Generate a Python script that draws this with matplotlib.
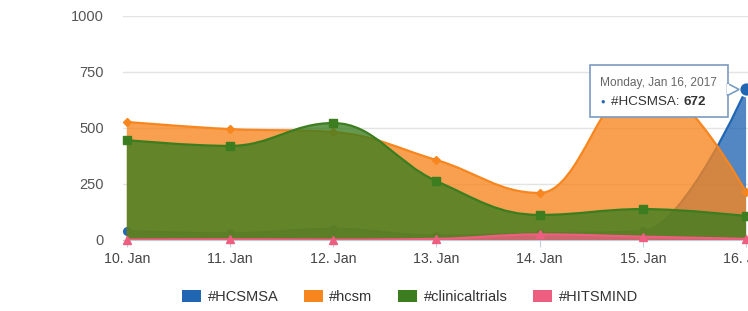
import numpy as np
import matplotlib
matplotlib.use("Agg")
import matplotlib.pyplot as plt
from matplotlib.path import Path
from matplotlib.patches import PathPatch, Rectangle, Polygon, Patch
from matplotlib.transforms import ScaledTranslation

plt.rcParams['font.family'] = ['Liberation Sans', 'DejaVu Sans']

### Data
days = ['10. Jan', '11. Jan', '12. Jan', '13. Jan', '14. Jan', '15. Jan', '16. Jan']
names = ['#HCSMSA', '#hcsm', '#clinicaltrials', '#HITSMIND']
hcsmsa = [40, 30, 50, 20, 30, 40, 672]
hcsm = [527, 495, 482, 357, 210, 715, 214]
clinicaltrials = [446, 420, 522, 263, 112, 138, 107]
hitsmind = [2, 3, 2, 5, 25, 15, 5]

colors = ['#2166b3', '#f7861e', '#3b7d1f', '#ee5e80']
markers = ['o', 'D', 's', '^']
msizes = [5.5, 4.5, 5.5, 5.5]


def spline_path(xs, ys, close=False):
    # highcharts style areaspline control points
    sm, den = 1.5, 2.5
    n = len(xs)
    verts = [(xs[0], ys[0])]
    codes = [Path.MOVETO]
    conts = []
    for i in range(n):
        if i == 0 or i == n - 1:
            conts.append(((xs[i], ys[i]), (xs[i], ys[i])))
            continue
        lx, ly, nx, ny = xs[i-1], ys[i-1], xs[i+1], ys[i+1]
        x, y = xs[i], ys[i]
        lcx, lcy = (sm*x + lx)/den, (sm*y + ly)/den
        rcx, rcy = (sm*x + nx)/den, (sm*y + ny)/den
        corr = ((rcy - lcy)*(rcx - x))/(rcx - lcx) + y - rcy
        lcy += corr
        rcy += corr
        if lcy > ly and lcy > y:
            lcy = max(ly, y); rcy = 2*y - lcy
        elif lcy < ly and lcy < y:
            lcy = min(ly, y); rcy = 2*y - lcy
        if rcy > ny and rcy > y:
            rcy = max(ny, y); lcy = 2*y - rcy
        elif rcy < ny and rcy < y:
            rcy = min(ny, y); lcy = 2*y - rcy
        conts.append(((lcx, lcy), (rcx, rcy)))
    for i in range(1, n):
        verts += [conts[i-1][1], conts[i][0], (xs[i], ys[i])]
        codes += [Path.CURVE4]*3
    if close:
        verts += [(xs[-1], 0), (xs[0], 0), (xs[0], ys[0])]
        codes += [Path.LINETO, Path.LINETO, Path.CLOSEPOLY]
    return Path(verts, codes)


fig = plt.figure(figsize=(7.48, 3.11), dpi=100)
ax = fig.add_axes([0.164, 0.2283, 0.85, 0.7203])
x = np.arange(len(days))
series = [hcsmsa, hcsm, clinicaltrials, hitsmind]

for k, vals in enumerate(series):
    z = 3 + k
    ax.add_patch(PathPatch(spline_path(x, vals, close=True), fc=colors[k], ec='none',
                           alpha=0.78, zorder=z))
    ax.add_patch(PathPatch(spline_path(x, vals), fc='none', ec=colors[k], lw=1.6,
                           zorder=z + 0.1))
    ax.plot(x, vals, ls='none', marker=markers[k], ms=msizes[k], color=colors[k],
            zorder=z + 0.2, clip_on=False)

# hovered point
ax.plot([6], [hcsmsa[6]], marker='o', ms=10, color=colors[0], mec='white', mew=1.2,
        zorder=10, clip_on=False)

ax.set_xlim(-0.04, 6.12)
ax.set_ylim(0, 1000)
ax.set_yticks([0, 250, 500, 750, 1000])
ax.set_xticks(x)
ax.set_xticklabels(days)
ax.grid(axis='y', color='#e3e3e3', lw=1)
ax.set_axisbelow(True)
for s in ['top', 'right', 'left']:
    ax.spines[s].set_visible(False)
ax.spines['bottom'].set_color('#c0c8d0')
ax.tick_params(axis='y', length=0, labelsize=10.5, labelcolor='#555555', pad=13.5)
ax.tick_params(axis='x', length=5, color='#c0d0e0', labelsize=10.2, labelcolor='#444444', pad=3.5)

# tooltip
tt = ScaledTranslation(6, hcsmsa[6], ax.transData)
ax.add_patch(Rectangle((-156, -28), 138, 52, transform=tt, fc='white', ec='#7a9cc0',
                       lw=1.2, zorder=11, clip_on=False))
ax.add_patch(Polygon([(-18.6, 6), (-18.6, -6), (-7, 0)], closed=True, transform=tt,
                     fc='white', ec='#7a9cc0', lw=1.2, zorder=11, clip_on=False))
ax.add_patch(Rectangle((-19.5, -5), 2, 10, transform=tt, fc='white', ec='none',
                       zorder=11.5, clip_on=False))
ax.text(-146, 6, 'Monday, Jan 16, 2017', transform=tt, fontsize=8.6, color='#666666',
        va='center', ha='left', zorder=12)
ax.text(-146, -13, '\u25cf', transform=tt, fontsize=5.5, color=colors[0],
        va='center', ha='left', zorder=12)
lab = ax.text(-135, -13, '#HCSMSA: ', transform=tt, fontsize=9.6, color='#333333',
              va='center', ha='left', zorder=12)
fig.canvas.draw()
ext = lab.get_window_extent()
ax.annotate(str(hcsmsa[6]), xy=(ext.x1, ext.y0 + ext.height / 2), xycoords='figure pixels',
            fontsize=9.6, color='#333333', fontweight='bold', va='center', ha='left',
            zorder=12)

handles = [Patch(fc=c, ec='none') for c in colors]
fig.legend(handles, names, loc='center', bbox_to_anchor=(0.548, 0.045), ncol=4,
           frameon=False, fontsize=10.5, handlelength=1.3, handleheight=0.95,
           handletextpad=0.45, columnspacing=1.75, labelcolor='#333333')

fig.savefig('out.png', dpi=100)
